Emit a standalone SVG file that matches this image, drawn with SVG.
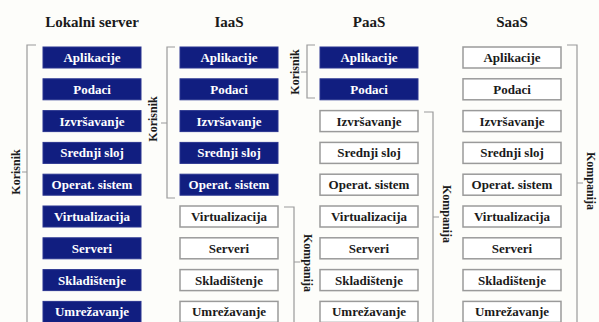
<svg xmlns="http://www.w3.org/2000/svg" width="599" height="322" viewBox="0 0 599 322">
  <style>
    .title { font-family: "Liberation Serif", "Times New Roman", serif; font-weight: bold; font-size: 15px; fill: #1a1a1a; text-anchor: middle; }
    .lbl { font-family: "Liberation Serif", "Times New Roman", serif; font-weight: bold; font-size: 13px; text-anchor: middle; }
    .side { font-family: "Liberation Serif", "Times New Roman", serif; font-weight: bold; font-size: 12px; fill: #1a1a1a; text-anchor: middle; }
    .blue rect { fill: #111e80; stroke: #2a3590; stroke-width: 1; }
    .blue text { fill: #ffffff; }
    .white rect { fill: #ffffff; stroke: #9a9a9a; stroke-width: 1.5; }
    .white text { fill: #1a1a1a; }
    .brk { fill: none; stroke: #9a9a9a; stroke-width: 1.2; }
  </style>
  <rect x="0" y="0" width="599" height="322" fill="#fdfdfa"/>

  <!-- column headings -->
  <g id="headings">
    <text class="title" x="92" y="27">Lokalni server</text>
    <text class="title" x="229" y="27">IaaS</text>
    <text class="title" x="369" y="27">PaaS</text>
    <text class="title" x="512" y="27">SaaS</text>
  </g>

  <!-- Lokalni server stack -->
  <g id="lokalni">
    <g id="lok-aplikacije" class="blue"><rect x="43" y="47" width="98" height="21"/><text class="lbl" x="92" y="62">Aplikacije</text></g>
    <g id="lok-podaci" class="blue"><rect x="43" y="78.8" width="98" height="21"/><text class="lbl" x="92" y="93.8">Podaci</text></g>
    <g id="lok-izvrsavanje" class="blue"><rect x="43" y="110.6" width="98" height="21"/><text class="lbl" x="92" y="125.6">Izvršavanje</text></g>
    <g id="lok-srednji" class="blue"><rect x="43" y="142.4" width="98" height="21"/><text class="lbl" x="92" y="157.4">Srednji sloj</text></g>
    <g id="lok-os" class="blue"><rect x="43" y="174.2" width="98" height="21"/><text class="lbl" x="92" y="189.2">Operat. sistem</text></g>
    <g id="lok-virtualizacija" class="blue"><rect x="43" y="206" width="98" height="21"/><text class="lbl" x="92" y="221">Virtualizacija</text></g>
    <g id="lok-serveri" class="blue"><rect x="43" y="237.8" width="98" height="21"/><text class="lbl" x="92" y="252.8">Serveri</text></g>
    <g id="lok-skladistenje" class="blue"><rect x="43" y="269.6" width="98" height="21"/><text class="lbl" x="92" y="284.6">Skladištenje</text></g>
    <g id="lok-umrezavanje" class="blue"><rect x="43" y="301.4" width="98" height="21"/><text class="lbl" x="92" y="316.4">Umrežavanje</text></g>
  </g>

  <!-- IaaS stack -->
  <g id="iaas">
    <g id="iaas-aplikacije" class="blue"><rect x="180" y="47" width="98" height="21"/><text class="lbl" x="229" y="62">Aplikacije</text></g>
    <g id="iaas-podaci" class="blue"><rect x="180" y="78.8" width="98" height="21"/><text class="lbl" x="229" y="93.8">Podaci</text></g>
    <g id="iaas-izvrsavanje" class="blue"><rect x="180" y="110.6" width="98" height="21"/><text class="lbl" x="229" y="125.6">Izvršavanje</text></g>
    <g id="iaas-srednji" class="blue"><rect x="180" y="142.4" width="98" height="21"/><text class="lbl" x="229" y="157.4">Srednji sloj</text></g>
    <g id="iaas-os" class="blue"><rect x="180" y="174.2" width="98" height="21"/><text class="lbl" x="229" y="189.2">Operat. sistem</text></g>
    <g id="iaas-virtualizacija" class="white"><rect x="180" y="206" width="98" height="21"/><text class="lbl" x="229" y="221">Virtualizacija</text></g>
    <g id="iaas-serveri" class="white"><rect x="180" y="237.8" width="98" height="21"/><text class="lbl" x="229" y="252.8">Serveri</text></g>
    <g id="iaas-skladistenje" class="white"><rect x="180" y="269.6" width="98" height="21"/><text class="lbl" x="229" y="284.6">Skladištenje</text></g>
    <g id="iaas-umrezavanje" class="white"><rect x="180" y="301.4" width="98" height="21"/><text class="lbl" x="229" y="316.4">Umrežavanje</text></g>
  </g>

  <!-- PaaS stack -->
  <g id="paas">
    <g id="paas-aplikacije" class="blue"><rect x="320" y="47" width="98" height="21"/><text class="lbl" x="369" y="62">Aplikacije</text></g>
    <g id="paas-podaci" class="blue"><rect x="320" y="78.8" width="98" height="21"/><text class="lbl" x="369" y="93.8">Podaci</text></g>
    <g id="paas-izvrsavanje" class="white"><rect x="320" y="110.6" width="98" height="21"/><text class="lbl" x="369" y="125.6">Izvršavanje</text></g>
    <g id="paas-srednji" class="white"><rect x="320" y="142.4" width="98" height="21"/><text class="lbl" x="369" y="157.4">Srednji sloj</text></g>
    <g id="paas-os" class="white"><rect x="320" y="174.2" width="98" height="21"/><text class="lbl" x="369" y="189.2">Operat. sistem</text></g>
    <g id="paas-virtualizacija" class="white"><rect x="320" y="206" width="98" height="21"/><text class="lbl" x="369" y="221">Virtualizacija</text></g>
    <g id="paas-serveri" class="white"><rect x="320" y="237.8" width="98" height="21"/><text class="lbl" x="369" y="252.8">Serveri</text></g>
    <g id="paas-skladistenje" class="white"><rect x="320" y="269.6" width="98" height="21"/><text class="lbl" x="369" y="284.6">Skladištenje</text></g>
    <g id="paas-umrezavanje" class="white"><rect x="320" y="301.4" width="98" height="21"/><text class="lbl" x="369" y="316.4">Umrežavanje</text></g>
  </g>

  <!-- SaaS stack -->
  <g id="saas">
    <g id="saas-aplikacije" class="white"><rect x="463" y="47" width="98" height="21"/><text class="lbl" x="512" y="62">Aplikacije</text></g>
    <g id="saas-podaci" class="white"><rect x="463" y="78.8" width="98" height="21"/><text class="lbl" x="512" y="93.8">Podaci</text></g>
    <g id="saas-izvrsavanje" class="white"><rect x="463" y="110.6" width="98" height="21"/><text class="lbl" x="512" y="125.6">Izvršavanje</text></g>
    <g id="saas-srednji" class="white"><rect x="463" y="142.4" width="98" height="21"/><text class="lbl" x="512" y="157.4">Srednji sloj</text></g>
    <g id="saas-os" class="white"><rect x="463" y="174.2" width="98" height="21"/><text class="lbl" x="512" y="189.2">Operat. sistem</text></g>
    <g id="saas-virtualizacija" class="white"><rect x="463" y="206" width="98" height="21"/><text class="lbl" x="512" y="221">Virtualizacija</text></g>
    <g id="saas-serveri" class="white"><rect x="463" y="237.8" width="98" height="21"/><text class="lbl" x="512" y="252.8">Serveri</text></g>
    <g id="saas-skladistenje" class="white"><rect x="463" y="269.6" width="98" height="21"/><text class="lbl" x="512" y="284.6">Skladištenje</text></g>
    <g id="saas-umrezavanje" class="white"><rect x="463" y="301.4" width="98" height="21"/><text class="lbl" x="512" y="316.4">Umrežavanje</text></g>
  </g>

  <!-- responsibility brackets -->
  <g id="brackets">
    <path class="brk" d="M36,45 H27 V330 M27,172 H22"/>
    <path class="brk" d="M175,47 H167 V198 H175 M167,123 H161"/>
    <path class="brk" d="M315,45 H307 V98 H315 M307,72 H301"/>
    <path class="brk" d="M284,207 H294 V330 M294,262 H300"/>
    <path class="brk" d="M424,112 H433 V330 M433,217 H439"/>
    <path class="brk" d="M567,45 H577 V330 M577,183 H583"/>
  </g>

  <!-- bracket captions -->
  <g id="captions">
    <text class="side" transform="translate(16,172) rotate(-90)" y="4">Korisnik</text>
    <text class="side" transform="translate(153,119) rotate(-90)" y="4">Korisnik</text>
    <text class="side" transform="translate(295,72) rotate(-90)" y="4">Korisnik</text>
    <text class="side" transform="translate(308,263) rotate(90)" y="4">Kompanija</text>
    <text class="side" transform="translate(447,214) rotate(90)" y="4">Kompanija</text>
    <text class="side" transform="translate(591,181) rotate(90)" y="4">Kompanija</text>
  </g>
</svg>
